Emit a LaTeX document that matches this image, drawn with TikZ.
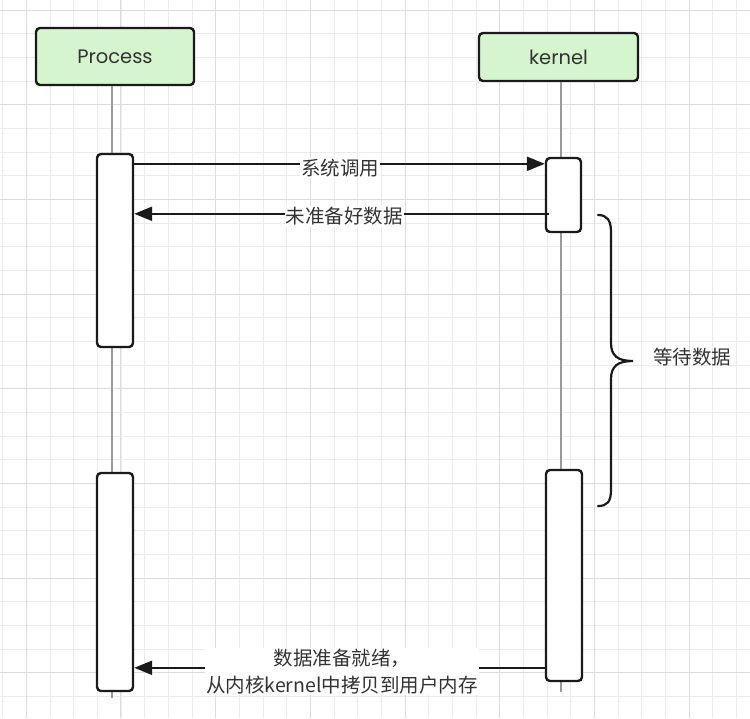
\documentclass[tikz,border=0pt]{standalone}
\usepackage{fontspec}
\setmainfont{Poppins}
\newfontfamily\cjk{Noto Sans CJK SC}
\usetikzlibrary{arrows.meta}
\definecolor{gridminor}{HTML}{EBEBEB}
\definecolor{gridmajor}{HTML}{DCDCDC}
\definecolor{headfill}{HTML}{D4F5CD}
\definecolor{ink}{HTML}{1A1A1A}
\definecolor{txt}{HTML}{333333}
\definecolor{life}{HTML}{9A9A9A}
\begin{document}
\begin{tikzpicture}[x=1pt,y=-1pt,
  head/.style={draw=ink, line width=2.4pt, fill=headfill, rounded corners=4pt,
    inner sep=0pt, text=txt, font=\fontsize{19.5}{22}\selectfont},
  actbox/.style={draw=ink, line width=2.4pt, fill=white, rounded corners=4pt, inner sep=0pt},
  lifeline/.style={draw=life, line width=1.3pt},
  msg/.style={draw=ink, line width=2.2pt, -{Triangle[length=18pt,width=14pt]}},
  lbl/.style={fill=white, inner sep=1pt, text=txt, font=\cjk\fontsize{19.5}{27}\selectfont},
  minorline/.style={draw=gridminor, line width=0.8pt},
  majorline/.style={draw=gridmajor, line width=1pt}]
\useasboundingbox (0,0) rectangle (750,718);
\fill[white] (0,0) rectangle (750,718);
% grid
\foreach \i in {0,...,31} {\draw[minorline] (2.63+\i*23.67,0) -- (2.63+\i*23.67,718);}
\foreach \i in {0,...,30} {\draw[minorline] (0,-13.67+\i*23.67) -- (750,-13.67+\i*23.67);}
\foreach \i in {0,...,7} {\draw[majorline] (26.3+\i*94.68,0) -- (26.3+\i*94.68,718);}
\foreach \i in {0,...,7} {\draw[majorline] (0,10+\i*94.68) -- (750,10+\i*94.68);}
% heads
\node[head, minimum width=158pt, minimum height=57pt] (proc) at (115,56.5) {Process};
\node[head, minimum width=159pt, minimum height=48pt] (kern) at (558.5,57) {kernel};
% lifelines
\coordinate (pend) at (112,698);
\coordinate (kend) at (561,692);
\draw[lifeline] ([xshift=-3pt]proc.south) -- (pend);
\draw[lifeline] ([xshift=2.5pt]kern.south) -- (kend);
% activation boxes
\node[actbox, minimum width=36pt, minimum height=193pt] (pa1) at (115,250.5) {};
\node[actbox, minimum width=36pt, minimum height=218pt] (pa2) at (115,582) {};
\node[actbox, minimum width=35pt, minimum height=74pt] (ka1) at (563.5,195) {};
\node[actbox, minimum width=36pt, minimum height=211pt] (ka2) at (564,575.5) {};
% messages
\draw[msg] ([yshift=-11pt]pa1.north east) -- ([yshift=-7pt]ka1.north west);
\draw[msg] ([xshift=4pt,yshift=-57pt]ka1.north west) -- ([yshift=-61pt]pa1.north east);
\draw[msg] ([yshift=-199pt]ka2.north west) -- ([yshift=-196pt]pa2.north east);
\node[lbl] (l1) at (340,168) {系统调用};
\node[lbl] (l2) at (344,216.5) {未准备好数据};
\node[lbl, align=center] (l3) at (342,671.5) {数据准备就绪，\\从内核kernel中拷贝到用户内存};
% brace
\draw[ink, line width=2.2pt, line cap=round]
  (598,215) .. controls (607,215) and (611,220) .. (611,232)
  -- (611,343) .. controls (611,356) and (618,361) .. (633,361)
  .. controls (618,361) and (611,366) .. (611,379)
  -- (611,490) .. controls (611,502) and (607,506) .. (598,506);
\node[text=txt, font=\cjk\fontsize{19.5}{22}\selectfont] (wait) at (692,357) {等待数据};
\end{tikzpicture}
\end{document}
